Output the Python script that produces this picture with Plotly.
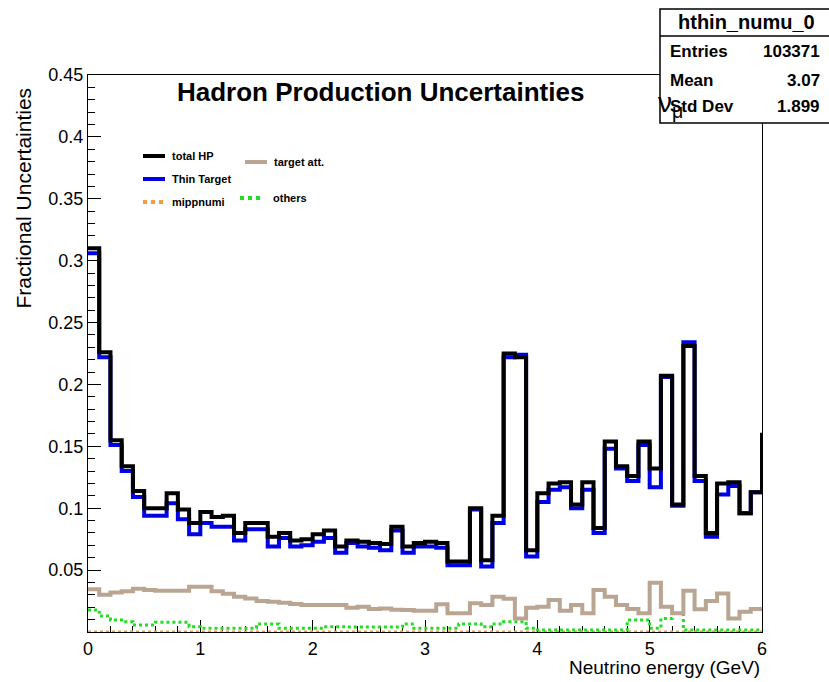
import plotly.graph_objects as go

# ---------------- data (bin width 0.1 GeV, 0-6 GeV; last value of total = overflow edge) ----
bin_edges = [round(0.1 * i, 1) for i in range(61)]

total_hp = [0.310, 0.226, 0.155, 0.134, 0.114, 0.100, 0.100, 0.112, 0.099, 0.088,
            0.097, 0.093, 0.094, 0.080, 0.088, 0.088, 0.077, 0.080, 0.074, 0.075,
            0.079, 0.082, 0.069, 0.074, 0.073, 0.072, 0.071, 0.085, 0.069, 0.072,
            0.073, 0.072, 0.057, 0.057, 0.100, 0.058, 0.094, 0.225, 0.222, 0.066,
            0.112, 0.120, 0.121, 0.103, 0.121, 0.084, 0.154, 0.134, 0.126, 0.154,
            0.132, 0.207, 0.103, 0.231, 0.126, 0.080, 0.120, 0.121, 0.096, 0.113]
total_overflow = 0.161

thin_target = [0.306, 0.222, 0.151, 0.130, 0.109, 0.094, 0.094, 0.104, 0.091, 0.079,
               0.088, 0.085, 0.085, 0.074, 0.083, 0.083, 0.069, 0.076, 0.069, 0.070,
               0.073, 0.076, 0.064, 0.072, 0.069, 0.068, 0.066, 0.082, 0.064, 0.069,
               0.069, 0.068, 0.054, 0.054, 0.099, 0.053, 0.088, 0.222, 0.224, 0.061,
               0.105, 0.115, 0.117, 0.100, 0.115, 0.080, 0.148, 0.132, 0.122, 0.151,
               0.117, 0.206, 0.102, 0.234, 0.122, 0.077, 0.111, 0.118, 0.096, 0.113]

mippnumi = [0.0] * 60

target_att = [0.0345, 0.030, 0.032, 0.033, 0.035, 0.034, 0.0334, 0.0334, 0.0334, 0.0366,
              0.0366, 0.033, 0.031, 0.0285, 0.027, 0.025, 0.0245, 0.0237, 0.0226, 0.0218,
              0.0218, 0.0218, 0.0218, 0.0196, 0.0204, 0.0186, 0.019, 0.018, 0.0178, 0.0172,
              0.0172, 0.0224, 0.0151, 0.0151, 0.0232, 0.0218, 0.0285, 0.0269, 0.011, 0.0196,
              0.0204, 0.0258, 0.0172, 0.0218, 0.0151, 0.034, 0.0285, 0.0218, 0.0186, 0.0151,
              0.0398, 0.0204, 0.0151, 0.0334, 0.0183, 0.025, 0.0312, 0.011, 0.0164, 0.0186]

others = [0.0178, 0.0129, 0.0097, 0.0083, 0.0057, 0.0057, 0.0078, 0.0078, 0.0078, 0.0043,
          0.003, 0.003, 0.003, 0.003, 0.003, 0.0065, 0.0065, 0.003, 0.003, 0.003,
          0.003, 0.0043, 0.0043, 0.004, 0.004, 0.004, 0.004, 0.004, 0.0065, 0.003,
          0.003, 0.003, 0.003, 0.0065, 0.0065, 0.0043, 0.0065, 0.0083, 0.0083, 0.003,
          0.0016, 0.0016, 0.0016, 0.0016, 0.0016, 0.0016, 0.0016, 0.0016, 0.0097, 0.0097,
          0.003, 0.011, 0.015, 0.0016, 0.0016, 0.0016, 0.0016, 0.0016, 0.0016, 0.0016]

y_tick_vals = [0.05, 0.1, 0.15, 0.2, 0.25, 0.3, 0.35, 0.4, 0.45]
y_tick_text = ["0.05", "0.1", "0.15", "0.2", "0.25", "0.3", "0.35", "0.4", "0.45"]
x_tick_vals = [0, 1, 2, 3, 4, 5, 6]

stats_name = "hthin_numu_0"
stats_rows = [("Entries", "103371"), ("Mean", "3.07"), ("Std Dev", "1.899")]

# ---------------- layout geometry (pixels) ----------------
W, H = 829, 682
L, R, T, B = 88, 762, 75, 632


def px(x):
    return (x - L) / (R - L)


def py(y):
    return (B - y) / (B - T)


FONT = "Liberation Sans"

fig = go.Figure()


def step(vals, last=None):
    return vals + [vals[-1] if last is None else last]


fig.add_trace(go.Scatter(x=bin_edges, y=step(mippnumi), mode="lines", line_shape="hv",
                         line=dict(color="#f59a45", width=3, dash="dot"), name="mippnumi"))
fig.add_trace(go.Scatter(x=bin_edges, y=step(others), mode="lines", line_shape="hv",
                         line=dict(color="#22dd22", width=3, dash="dot"), name="others"))
fig.add_trace(go.Scatter(x=bin_edges, y=step(target_att), mode="lines", line_shape="hv",
                         line=dict(color="#b9a591", width=4), name="target att."))
fig.add_trace(go.Scatter(x=bin_edges, y=step(thin_target), mode="lines", line_shape="hv",
                         line=dict(color="#0000e6", width=4), name="Thin Target"))
fig.add_trace(go.Scatter(x=bin_edges, y=step(total_hp, total_overflow), mode="lines", line_shape="hv",
                         line=dict(color="black", width=4), name="total HP"))

shapes = []
annotations = []

# legend drawn manually (ROOT-style two-column legend)
leg = [
    ("total HP", "black", "solid", 143, 165, 156, 170),
    ("Thin Target", "#0000e6", "solid", 143, 165, 179, 170),
    ("mippnumi", "#f59a45", "dot", 143, 163, 202, 170),
    ("target att.", "#b9a591", "solid", 245, 267, 162, 272),
    ("others", "#22dd22", "dot", 240, 262, 198, 271),
]
for name, col, dash, x0, x1, yy, tx in leg:
    shapes.append(dict(type="line", xref="paper", yref="paper", x0=px(x0), x1=px(x1),
                       y0=py(yy), y1=py(yy), line=dict(color=col, width=4, dash=dash)))
    annotations.append(dict(text="<b>" + name + "</b>", xref="paper", yref="paper", x=px(tx), y=py(yy),
                            xanchor="left", yanchor="middle", showarrow=False,
                            font=dict(family=FONT, size=11, color="black")))

# title
annotations.append(dict(text="<b>Hadron Production Uncertainties</b>", xref="paper", yref="paper",
                        x=px(380), y=py(92), xanchor="center", yanchor="middle", showarrow=False,
                        font=dict(family=FONT, size=26, color="black")))

# stats box
shapes.append(dict(type="rect", xref="paper", yref="paper", x0=px(660), x1=px(835), y0=py(123), y1=py(9),
                   fillcolor="white", line=dict(color="black", width=1.5), layer="above"))
shapes.append(dict(type="line", xref="paper", yref="paper", x0=px(660), x1=px(835), y0=py(36), y1=py(36),
                   line=dict(color="black", width=1.5), layer="above"))
annotations.append(dict(text="<b>" + stats_name + "</b>", xref="paper", yref="paper", x=px(746), y=py(22),
                        xanchor="center", yanchor="middle", showarrow=False,
                        font=dict(family=FONT, size=20, color="black")))
for i, (k, v) in enumerate(stats_rows):
    yy = [52, 80, 107][i]
    annotations.append(dict(text="<b>" + k + "</b>", xref="paper", yref="paper", x=px(668), y=py(yy),
                            xanchor="left", yanchor="middle", showarrow=False,
                            font=dict(family=FONT, size=17, color="black")))
    annotations.append(dict(text="<b>" + v + "</b>", xref="paper", yref="paper", x=px(822), y=py(yy),
                            xanchor="right", yanchor="middle", showarrow=False,
                            font=dict(family=FONT, size=17, color="black")))
# stray nu_mu label (overlaps the stats box, as in the original)
annotations.append(dict(text="ν<sub>μ</sub>", xref="paper", yref="paper", x=px(656), y=py(104),
                        xanchor="left", yanchor="middle", showarrow=False,
                        font=dict(family=FONT, size=28, color="black")))

# axis titles (ROOT aligns them at the end of the axis)
annotations.append(dict(text="Neutrino energy (GeV)", xref="paper", yref="paper", x=px(762), y=py(668),
                        xanchor="right", yanchor="middle", showarrow=False,
                        font=dict(family=FONT, size=19, color="black")))
annotations.append(dict(text="Fractional Uncertainties", xref="paper", yref="paper", x=px(23), y=py(86),
                        xanchor="center", yanchor="top", textangle=-90, showarrow=False,
                        font=dict(family=FONT, size=21, color="black")))

fig.update_layout(
    width=W, height=H,
    margin=dict(l=L, r=W - R, t=T, b=H - B, pad=0),
    paper_bgcolor="white", plot_bgcolor="white",
    showlegend=False,
    shapes=shapes, annotations=annotations,
    font=dict(family=FONT, size=17, color="black"),
)
fig.update_xaxes(range=[0, 6], showgrid=False, zeroline=False, showline=True, linecolor="black",
                 linewidth=1, mirror=True, ticks="inside", ticklen=12, tickcolor="black",
                 tickvals=x_tick_vals, tickfont=dict(family=FONT, size=18),
                 minor=dict(dtick=0.2, tick0=0, ticks="inside", ticklen=6, tickcolor="black"),
                 layer="below traces")
fig.update_yaxes(range=[0, 0.45], showgrid=False, zeroline=False, showline=True, linecolor="black",
                 linewidth=1, mirror=True, ticks="inside", ticklen=13, tickcolor="black",
                 tickvals=y_tick_vals, ticktext=y_tick_text, tickfont=dict(family=FONT, size=18),
                 minor=dict(dtick=0.01, tick0=0, ticks="inside", ticklen=7, tickcolor="black"),
                 layer="below traces")

fig.write_html("out.html")
